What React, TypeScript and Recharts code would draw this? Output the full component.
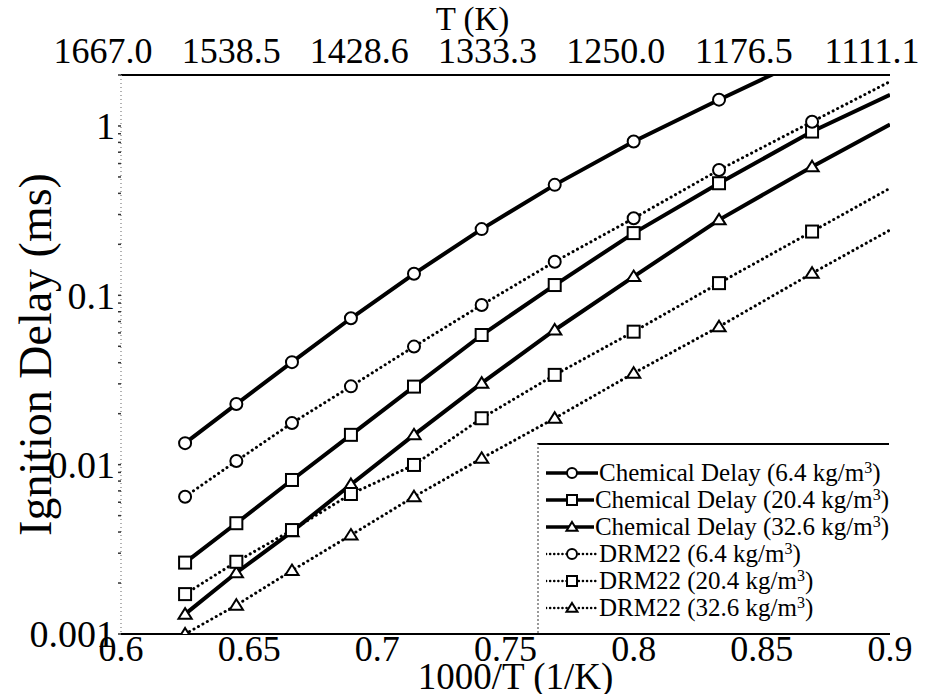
import React from 'react'
import { LineChart, Line, XAxis, YAxis } from 'recharts'

const FONT = '"Liberation Serif", "Times New Roman", serif'

// 1000/T positions of the computed points (last one is the line end at 0.9, no marker)
const X_VALUES = [0.625, 0.645, 0.6667, 0.6897, 0.7143, 0.7407, 0.7692, 0.8, 0.8333, 0.8696, 0.9]

const CHEM_64 = [0.0134, 0.0228, 0.0403, 0.0732, 0.134, 0.246, 0.449, 0.809, 1.43, 2.6, 4.2]
const CHEM_204 = [0.00264, 0.00451, 0.00812, 0.015, 0.0289, 0.0583, 0.115, 0.233, 0.459, 0.927, 1.53]
const CHEM_326 = [0.00131, 0.0023, 0.00402, 0.00764, 0.015, 0.0303, 0.0624, 0.129, 0.279, 0.575, 1.02]
const DRM_64 = [0.00647, 0.0105, 0.0176, 0.029, 0.0498, 0.0877, 0.158, 0.285, 0.55, 1.06, 1.83]
const DRM_204 = [0.00172, 0.00267, 0.00411, 0.00671, 0.00996, 0.0188, 0.0339, 0.061, 0.118, 0.238, 0.429]
const DRM_326 = [0.001, 0.00148, 0.00237, 0.00384, 0.00647, 0.0109, 0.0188, 0.0347, 0.0653, 0.135, 0.243]

const X_TICKS = [0.6, 0.65, 0.7, 0.75, 0.8, 0.85, 0.9]
const X_TICK_LABELS = ['0.6', '0.65', '0.7', '0.75', '0.8', '0.85', '0.9']
const TOP_TICK_LABELS = ['1667.0', '1538.5', '1428.6', '1333.3', '1250.0', '1176.5', '1111.1']
const Y_MAJOR = [0.001, 0.01, 0.1, 1]
const Y_MAJOR_LABELS = ['0.001', '0.01', '0.1', '1']
const Y_MINOR = [
  0.002, 0.003, 0.004, 0.005, 0.006, 0.007, 0.008, 0.009,
  0.02, 0.03, 0.04, 0.05, 0.06, 0.07, 0.08, 0.09,
  0.2, 0.3, 0.4, 0.5, 0.6, 0.7, 0.8, 0.9, 2,
]

type Marker = 'circle' | 'square' | 'triangle'

// the DRM22 curves are hung on the top (temperature) axis, which shares the same 1000/T range
const SERIES: { key: string; name: string; density: string; values: number[]; marker: Marker; dotted: boolean; axis: string }[] = [
  { key: 'c64', name: 'Chemical Delay', density: '6.4', values: CHEM_64, marker: 'circle', dotted: false, axis: 'bottom' },
  { key: 'c204', name: 'Chemical Delay', density: '20.4', values: CHEM_204, marker: 'square', dotted: false, axis: 'bottom' },
  { key: 'c326', name: 'Chemical Delay', density: '32.6', values: CHEM_326, marker: 'triangle', dotted: false, axis: 'bottom' },
  { key: 'd64', name: 'DRM22', density: '6.4', values: DRM_64, marker: 'circle', dotted: true, axis: 'top' },
  { key: 'd204', name: 'DRM22', density: '20.4', values: DRM_204, marker: 'square', dotted: true, axis: 'top' },
  { key: 'd326', name: 'DRM22', density: '32.6', values: DRM_326, marker: 'triangle', dotted: true, axis: 'top' },
]

function MarkerShape({ type, cx, cy, size }: { type: Marker; cx: number; cy: number; size: number }) {
  const h = size / 2
  if (type === 'circle') {
    return <circle cx={cx} cy={cy} r={h} fill="#fff" stroke="#000" strokeWidth={2} />
  }
  if (type === 'square') {
    return <rect x={cx - h} y={cy - h} width={size} height={size} fill="#fff" stroke="#000" strokeWidth={2} />
  }
  const pts = `${cx},${cy - h} ${cx + h * 1.1},${cy + h * 0.75} ${cx - h * 1.1},${cy + h * 0.75}`
  return <polygon points={pts} fill="#fff" stroke="#000" strokeWidth={2} />
}

const makeDot = (type: Marker) => (props: any) => {
  const { cx, cy, index } = props
  if (cx == null || cy == null || index === X_VALUES.length - 1) return <g key={`e${index}`} />
  return (
    <g key={`m${index}`}>
      <MarkerShape type={type} cx={cx} cy={cy} size={12} />
    </g>
  )
}

function LegendBox() {
  return (
    <div
      style={{
        position: 'absolute',
        left: 537,
        top: 443,
        width: 352,
        height: 190,
        borderTop: '2px solid #000',
        borderLeft: '2px dotted #999',
        boxSizing: 'border-box',
        paddingTop: 14,
        paddingLeft: 7,
        fontFamily: FONT,
        fontSize: 25,
        color: '#000',
      }}
    >
      {SERIES.map((s) => (
        <div key={s.key} style={{ height: 27, display: 'flex', alignItems: 'center', whiteSpace: 'nowrap' }}>
          <svg width={52} height={20} style={{ marginRight: 1 }}>
            <line
              x1={0}
              y1={10}
              x2={52}
              y2={10}
              stroke="#000"
              strokeWidth={s.dotted ? 2.5 : 3.5}
              strokeDasharray={s.dotted ? '0.1 4' : undefined}
              strokeLinecap={s.dotted ? 'round' : 'butt'}
            />
            <MarkerShape type={s.marker} cx={26} cy={10} size={10} />
          </svg>
          <span>
            {s.name} ({s.density} kg/m<sup style={{ fontSize: 16, verticalAlign: 8, lineHeight: 0 }}>3</sup>)
          </span>
        </div>
      ))}
    </div>
  )
}

export default function App() {
  const tickStyle = { fontSize: 36, fill: '#000', fontFamily: FONT }
  const yTickStyle = { fontSize: 38, fill: '#000', fontFamily: FONT }
  const topTickStyle = { fontSize: 36, fill: '#000', fontFamily: FONT, dx: -18 }
  return (
    <div style={{ position: 'absolute', left: 0, top: 0, width: 934, height: 694, background: '#fff' }}>
      <LineChart width={934} height={694} margin={{ top: 0, right: 44, bottom: 0, left: 0 }}>
        <XAxis
          xAxisId="bottom"
          dataKey="x"
          type="number"
          domain={[0.6, 0.9]}
          ticks={X_TICKS}
          tickFormatter={(_v: number, i: number) => X_TICK_LABELS[i]}
          interval={0}
          height={60}
          tickSize={0}
          tickMargin={1}
          tickLine={false}
          axisLine={{ stroke: '#000', strokeWidth: 2 }}
          tick={tickStyle}
          allowDataOverflow
          label={{
            content: ({ viewBox }: any) => (
              <text
                x={viewBox.x + viewBox.width / 2 + 10}
                y={viewBox.y + 55}
                textAnchor="middle"
                fontSize={37}
                fontFamily={FONT}
                fill="#000"
              >
                1000/T (1/K)
              </text>
            ),
          }}
        />
        <XAxis
          xAxisId="top"
          dataKey="x"
          orientation="top"
          type="number"
          domain={[0.6, 0.9]}
          ticks={X_TICKS}
          tickFormatter={(_v: number, i: number) => TOP_TICK_LABELS[i]}
          interval={0}
          height={75}
          tickSize={4}
          tickMargin={8}
          tickLine={false}
          axisLine={{ stroke: '#000', strokeWidth: 2 }}
          tick={topTickStyle}
          allowDataOverflow
          label={{
            content: ({ viewBox }: any) => (
              <text
                x={viewBox.x + viewBox.width / 2 - 33}
                y={viewBox.y + 19}
                textAnchor="middle"
                dominantBaseline="central"
                fontSize={33}
                fontFamily={FONT}
                fill="#000"
              >
                T (K)
              </text>
            ),
          }}
        />
        <YAxis
          yAxisId="left"
          dataKey="y"
          scale="log"
          type="number"
          domain={[0.001, 2]}
          ticks={[...Y_MAJOR, ...Y_MINOR].sort((a, b) => a - b)}
          tickFormatter={(v: number) => {
            const i = Y_MAJOR.findIndex((m) => Math.abs(m - v) < m * 1e-6)
            return i >= 0 ? Y_MAJOR_LABELS[i] : ''
          }}
          interval={0}
          width={121}
          tickSize={3}
          tickMargin={3}
          tickLine={{ stroke: '#333', strokeWidth: 1.5 }}
          axisLine={{ stroke: '#999', strokeWidth: 1.5, strokeDasharray: '1 3' }}
          tick={yTickStyle}
          allowDataOverflow
          label={{
            content: ({ viewBox }: any) => (
              <text
                x={35}
                y={viewBox.y + viewBox.height / 2}
                transform={`rotate(-90, 35, ${viewBox.y + viewBox.height / 2})`}
                textAnchor="middle"
                dominantBaseline="central"
                fontSize={46}
                fontFamily={FONT}
                fill="#000"
              >
                Ignition Delay (ms)
              </text>
            ),
          }}
        />
        {SERIES.map((s) => (
          <Line
            key={s.key}
            xAxisId={s.axis}
            yAxisId="left"
            data={X_VALUES.map((x, i) => ({ x, y: s.values[i] }))}
            dataKey="y"
            type="linear"
            stroke="#000"
            strokeWidth={s.dotted ? 3 : 4}
            strokeDasharray={s.dotted ? '0.1 5' : undefined}
            strokeLinecap={s.dotted ? 'round' : 'butt'}
            dot={makeDot(s.marker)}
            activeDot={false}
            isAnimationActive={false}
          />
        ))}
      </LineChart>
      <LegendBox />
    </div>
  )
}
